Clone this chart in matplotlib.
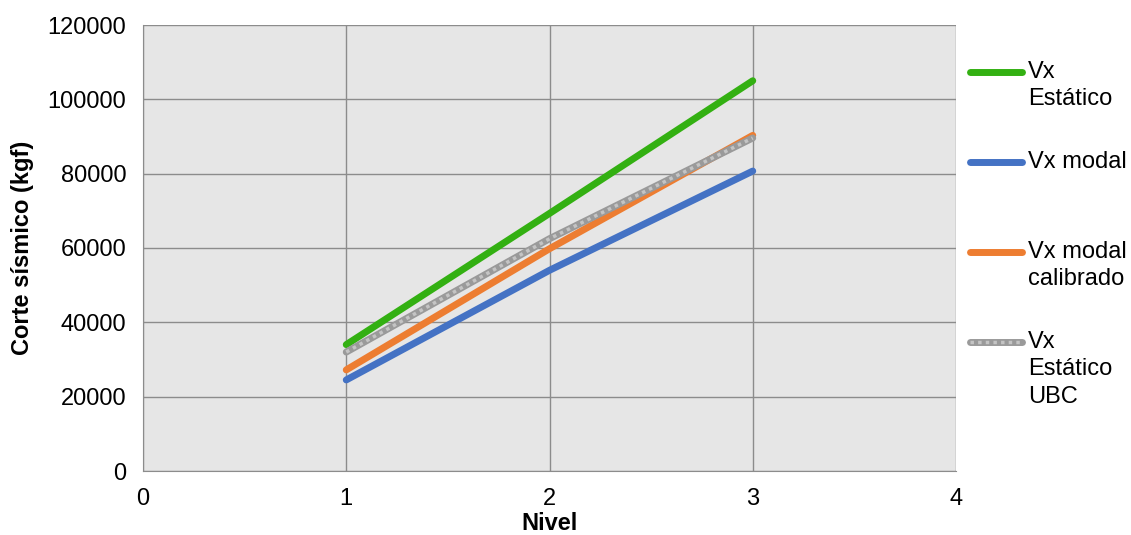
import matplotlib.pyplot as plt
from matplotlib.lines import Line2D

plt.rcParams['font.family'] = ['Liberation Sans', 'DejaVu Sans']

niveles = [1, 2, 3]
vx_estatico = [34000, 69300, 105000]
vx_modal = [24500, 54000, 80700]
vx_modal_cal = [27200, 59800, 90300]
vx_estatico_ubc = [32000, 62500, 89600]

series = [
    ("Vx\nEstático", vx_estatico, '#33b012'),
    ("Vx modal", vx_modal, '#4472c4'),
    ("Vx modal\ncalibrado", vx_modal_cal, '#ed7d31'),
    ("Vx\nEstático\nUBC", vx_estatico_ubc, '#a5a5a5'),
]

fs = 17

fig = plt.figure(figsize=(11.31, 5.35), dpi=100)
ax = fig.add_axes([143 / 1131, 1 - 471 / 535, (956 - 143) / 1131, (471 - 25) / 535])
ax.set_facecolor('#e6e6e6')

for name, vals, col in series:
    if name.endswith('UBC'):
        ax.plot(niveles, vals, color='#9a9a9a', lw=5, solid_capstyle='round', zorder=3)
        ax.plot(niveles, vals, color='#c4c4c4', lw=2.5, ls=(0, (1, 1.2)), zorder=3)
    else:
        ax.plot(niveles, vals, color=col, lw=5, solid_capstyle='round', zorder=3)

ax.set_xlim(0, 4)
ax.set_ylim(0, 120000)
ax.set_xticks([0, 1, 2, 3, 4])
ax.set_yticks(range(0, 120001, 20000))
ax.grid(True, color='#8c8c8c', lw=1)
ax.set_axisbelow(True)
for s in ['top', 'right']:
    ax.spines[s].set_visible(False)
for s in ['left', 'bottom']:
    ax.spines[s].set_color('#8c8c8c')
ax.tick_params(labelsize=fs, length=0)
ax.tick_params(axis='y', pad=12)
ax.tick_params(axis='x', pad=12)
ax.set_xlabel('Nivel', fontsize=fs, fontweight='bold', labelpad=2)
ax.set_ylabel('Corte sísmico (kgf)', fontsize=fs, fontweight='bold', labelpad=10)

# legend drawn by hand so the handle sits on the first label line
leg_y = [72, 162, 252, 342]
for (name, vals, col), y in zip(series, leg_y):
    yf = 1 - y / 535
    xs = [970 / 1131, 1022 / 1131]
    if name.endswith('UBC'):
        fig.add_artist(Line2D(xs, [yf, yf], color='#9a9a9a', lw=5, solid_capstyle='round'))
        fig.add_artist(Line2D(xs, [yf, yf], color='#c4c4c4', lw=2.5, ls=(0, (1, 1.2))))
    else:
        fig.add_artist(Line2D(xs, [yf, yf], color=col, lw=5, solid_capstyle='round'))
    fig.text(1028 / 1131, 1 - (y - 11) / 535, name, fontsize=fs, va='top', ha='left',
             linespacing=1.32)

fig.savefig('out.png', dpi=100)
